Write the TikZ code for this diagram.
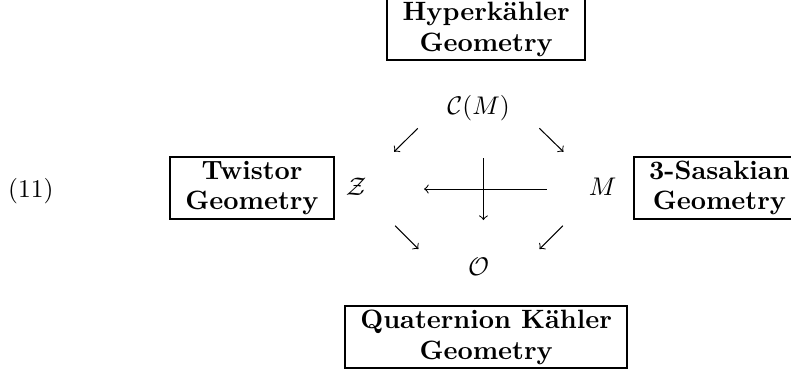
\documentclass[tikz,border=0pt]{standalone}
\begin{document}
\begin{tikzpicture}[>=to, geobox/.style={draw, line width=0.8pt, font=\bfseries\fontsize{10.4}{12}\selectfont, align=center, inner xsep=6pt, inner ysep=1.5pt}]
\useasboundingbox (0,0) rectangle (10.90,5.155);
\node (eqno) at (0.425,2.515) {(11)};
\node[geobox, anchor=south] (hyper) at (6.699,4.31) {Hyperkähler\\Geometry};
\node[geobox] (twistor) at (3.473,2.564) {Twistor\\Geometry};
\node[geobox, anchor=west] (sasaki) at (8.721,2.564) {3-Sasakian\\Geometry};
\node[geobox, anchor=north] (quat) at (6.699,0.951) {Quaternion Kähler\\Geometry};
\node (cone) at (6.595,3.666) {$\mathcal{C}(M)$};
\node (twsp) at (4.907,2.582) {$\mathcal{Z}$};
\node (mfd) at (8.305,2.582) {$M$};
\node (quot) at (6.595,1.479) {$\mathcal{O}$};
% arrow ends
\coordinate (ul1) at (5.757,3.387); \coordinate (ul2) at (5.431,3.064);
\coordinate (ur1) at (7.433,3.387); \coordinate (ur2) at (7.764,3.064);
\coordinate (ll1) at (5.445,2.044); \coordinate (ll2) at (5.766,1.723);
\coordinate (lr1) at (7.756,2.044); \coordinate (lr2) at (7.434,1.723);
\coordinate (h1) at (7.535,2.550); \coordinate (h2) at (5.844,2.550);
\coordinate (v1) at (6.662,2.973); \coordinate (v2) at (6.662,2.123);
\draw[->] (ul1) -- (ul2); \draw[->] (ur1) -- (ur2);
\draw[->] (ll1) -- (ll2); \draw[->] (lr1) -- (lr2);
\draw[->] (h1) -- (h2); \draw[->] (v1) -- (v2);
\end{tikzpicture}
\end{document}
